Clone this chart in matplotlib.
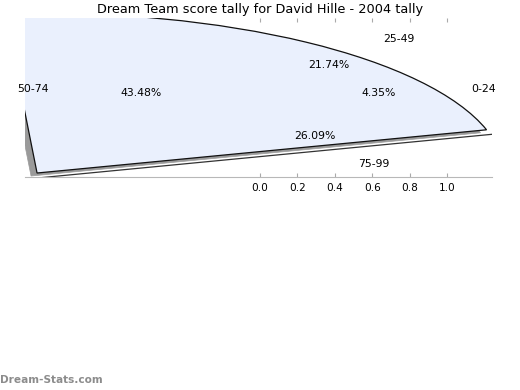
import numpy as np
import matplotlib
matplotlib.use("Agg")
from matplotlib import pyplot as plt
from matplotlib.patches import Wedge
from matplotlib.transforms import Affine2D, ScaledTranslation

title = "Dream Team score tally for David Hille - 2004 tally"
categories = ["0-24", "25-49", "50-74", "75-99"]
shares = [4.35, 21.74, 43.48, 26.09]
xticks = [0.0, 0.2, 0.4, 0.6, 0.8, 1.0]
broken_slice = "25-49"   # the slice the original renderer drew far too big


def px(dx, dy, fig):
    # shift in pixels (y down) as a display offset
    return ScaledTranslation(dx / 100, -dy / 100, fig.dpi_scale_trans)


def main():
    fig = plt.figure(figsize=(5.2, 3.9), dpi=100)
    ax = fig.add_axes([25 / 520, 1 - 177 / 390, 467 / 520, 159 / 390])
    ax.set_xlim(-1.257, 1.241)
    ax.set_ylim(-0.417, 0.433)

    # slice angles, counter clockwise from 0
    spans = np.array(shares) / 100 * 360
    starts = np.concatenate([[0], np.cumsum(spans)[:-1]])
    mids = np.radians(starts + spans / 2)

    # the broken 3d slice: huge ellipse wedge anchored at lower left
    i = categories.index(broken_slice)
    t1, t2 = starts[i], starts[i] + spans[i]
    base = Affine2D().scale(2.497, 0.856).translate(-1.1925, -0.3957) + ax.transData

    ax.plot([0, np.cos(np.radians(t1))], [0, np.sin(np.radians(t1))],
            color="#333333", lw=0.9, transform=base + px(5.5, 4.5, fig))
    side = Wedge((0, 0), 1, t1, t2, facecolor="#9a9a9a", edgecolor="#9a9a9a",
                 lw=0.5, transform=base + px(-6, 3, fig))
    ax.add_patch(side)
    top = Wedge((0, 0), 1, t1, t2, facecolor="#eaf0fd", edgecolor="#111111",
                lw=0.9, transform=base)
    ax.add_patch(top)

    # labels where a proper pie would put them
    for cat, val, m in zip(categories, shares, mids):
        c, s = np.cos(m), np.sin(m)
        ax.text(1.139 * c, 0.3925 * s, cat, ha="left" if c > 0 else "right",
                va="center", fontsize=7.8)
        ax.text(0.642 * c, 0.2246 * s, f"{val:.2f}%", ha="center",
                va="center", fontsize=7.8)

    ax.set_xticks(xticks)
    ax.set_xticklabels([f"{t:.1f}" for t in xticks])
    ax.set_yticks([])
    ax.tick_params(axis="x", direction="in", top=True, length=3,
                   color="#aaaaaa", labelsize=7.6, pad=4)
    for name in ("left", "right", "top"):
        ax.spines[name].set_visible(False)
    ax.spines["bottom"].set_color("#b8b8b8")

    fig.text(0.5, 1 - 10 / 390, title, ha="center", va="center", fontsize=9.3)
    fig.text(0.0, 1 - 380 / 390, "Dream-Stats.com", ha="left", va="center",
             fontsize=7.6, color="#8c8c8c", fontweight="bold")

    fig.savefig("out.png", dpi=100)


if __name__ == '__main__':
    main()
